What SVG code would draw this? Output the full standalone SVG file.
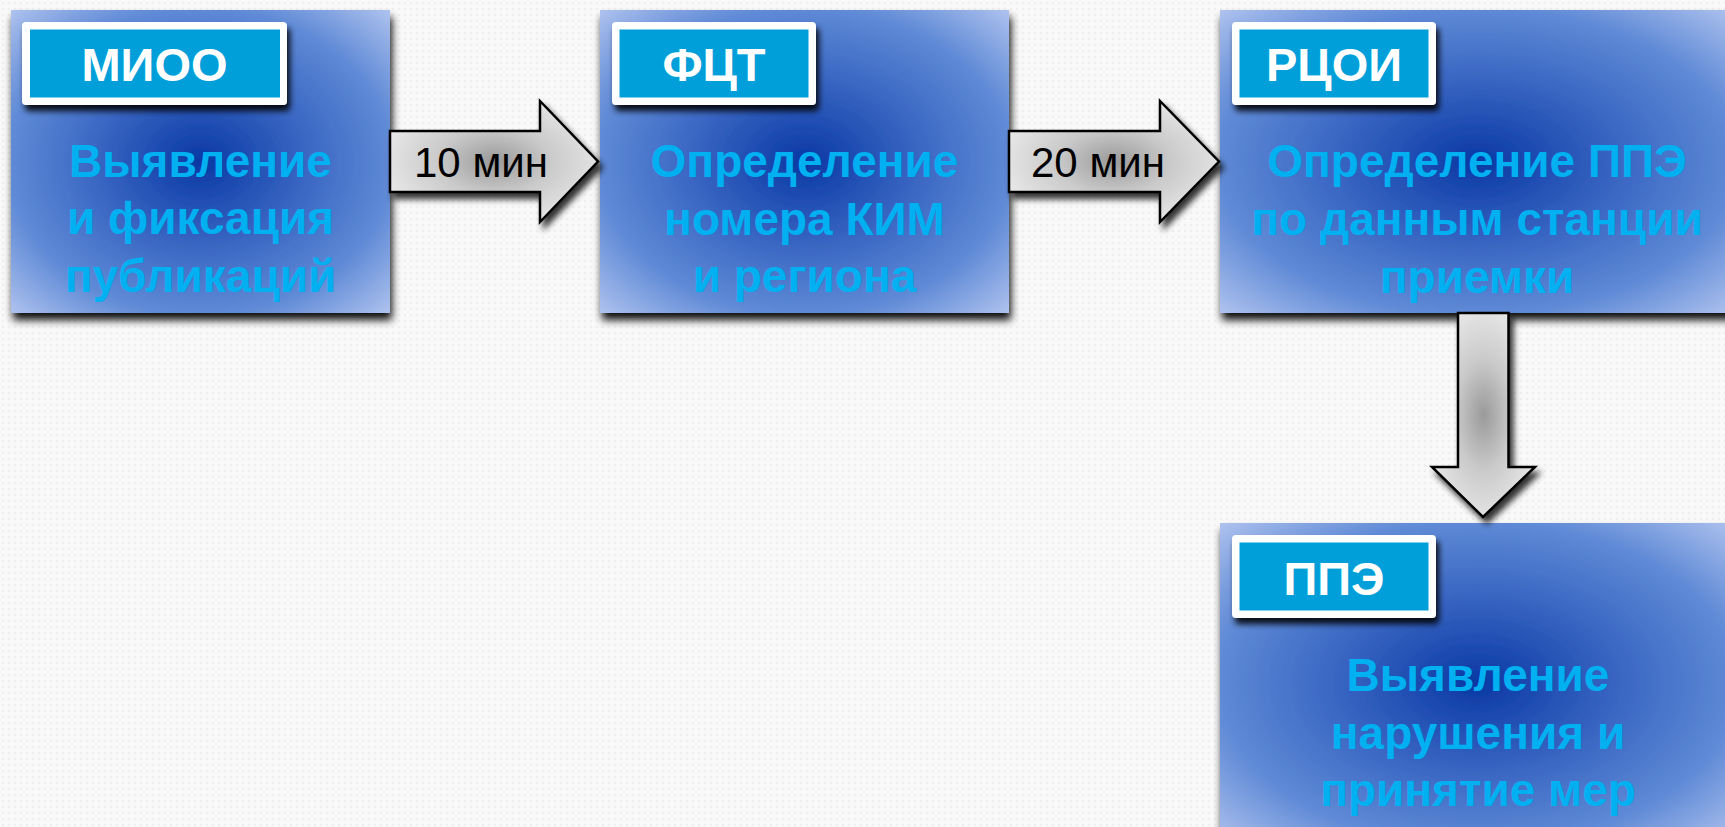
<svg xmlns="http://www.w3.org/2000/svg" width="1725" height="827" viewBox="0 0 1725 827">
<defs>
<pattern id="bgp" width="6" height="6" patternUnits="userSpaceOnUse">
<rect width="6" height="6" fill="#F9F9F9"/>
<circle cx="3" cy="3" r="1.3" fill="#EFEFEF"/>
</pattern>
<radialGradient id="boxg" cx="0.5" cy="0.5" r="0.72">
<stop offset="0" stop-color="#0A38A3"/>
<stop offset="0.35" stop-color="#3562C0"/>
<stop offset="0.7" stop-color="#5F8AD6"/>
<stop offset="1" stop-color="#B4C6F0"/>
</radialGradient>
<radialGradient id="arrg" cx="0.5" cy="0.5" r="0.6">
<stop offset="0" stop-color="#9A9A9A"/>
<stop offset="0.45" stop-color="#CACACA"/>
<stop offset="1" stop-color="#EDEDED"/>
</radialGradient>
<filter id="boxsh" x="-10%" y="-10%" width="120%" height="130%">
<feGaussianBlur in="SourceAlpha" stdDeviation="4"/>
<feOffset dx="2" dy="7" result="b"/>
<feComponentTransfer><feFuncA type="linear" slope="0.95"/></feComponentTransfer>
<feMerge><feMergeNode/><feMergeNode in="SourceGraphic"/></feMerge>
</filter>
<filter id="lblsh" x="-10%" y="-20%" width="125%" height="150%">
<feGaussianBlur in="SourceAlpha" stdDeviation="3"/>
<feOffset dx="3" dy="6"/>
<feComponentTransfer><feFuncA type="linear" slope="0.9"/></feComponentTransfer>
<feMerge><feMergeNode/><feMergeNode in="SourceGraphic"/></feMerge>
</filter>
<filter id="arrsh" x="-20%" y="-20%" width="140%" height="150%">
<feGaussianBlur in="SourceAlpha" stdDeviation="3"/>
<feOffset dx="4" dy="6"/>
<feComponentTransfer><feFuncA type="linear" slope="0.8"/></feComponentTransfer>
<feMerge><feMergeNode/><feMergeNode in="SourceGraphic"/></feMerge>
</filter>
</defs>
<style>
.box{fill:url(#boxg);filter:url(#boxsh)}
.lo{fill:#FFFFFF}
.li{fill:#009FDA}
.lt{font-family:"Liberation Sans",Arial,sans-serif;font-weight:bold;font-size:47px;fill:#FFFFFF;text-anchor:middle}
.mt{font-family:"Liberation Sans",Arial,sans-serif;font-weight:bold;font-size:46px;fill:#00B0F0;text-anchor:middle}
.arr{fill:url(#arrg);stroke:#000;stroke-width:2.5;stroke-linejoin:miter;filter:url(#arrsh)}
.at{font-family:"Liberation Sans",Arial,sans-serif;font-size:42px;fill:#000}
</style>
<rect width="1725" height="827" fill="url(#bgp)"/>

<g id="node-mioo">
<rect class="box" x="11" y="10" width="379" height="303"/>
<g filter="url(#lblsh)">
<rect class="lo" x="22" y="22" width="265" height="83" rx="4"/>
<rect class="li" x="30" y="29.5" width="250" height="68"/>
</g>
<text class="lt" x="154.5" y="81">МИОО</text>
<text class="mt" x="200.5" y="177">Выявление</text>
<text class="mt" x="200.5" y="234">и фиксация</text>
<text class="mt" x="200.5" y="292">публикаций</text>
</g>

<g id="node-fct">
<rect class="box" x="600" y="10" width="409" height="303"/>
<g filter="url(#lblsh)">
<rect class="lo" x="612" y="22" width="204" height="83" rx="4"/>
<rect class="li" x="619.5" y="29.5" width="189" height="68"/>
</g>
<text class="lt" x="714" y="81">ФЦТ</text>
<text class="mt" x="804.5" y="177">Определение</text>
<text class="mt" x="804.5" y="235">номера КИМ</text>
<text class="mt" x="804.5" y="292">и региона</text>
</g>

<g id="node-rcoi">
<rect class="box" x="1220" y="10" width="514" height="303"/>
<g filter="url(#lblsh)">
<rect class="lo" x="1232" y="22" width="204" height="83" rx="4"/>
<rect class="li" x="1239.5" y="29.5" width="189" height="68"/>
</g>
<text class="lt" x="1334" y="81">РЦОИ</text>
<text class="mt" x="1477" y="177">Определение ППЭ</text>
<text class="mt" x="1477" y="235">по данным станции</text>
<text class="mt" x="1477" y="293">приемки</text>
</g>

<g id="node-ppe">
<rect class="box" x="1220" y="523" width="514" height="320"/>
<g filter="url(#lblsh)">
<rect class="lo" x="1232" y="535" width="204" height="83" rx="4"/>
<rect class="li" x="1239.5" y="542.5" width="189" height="68"/>
</g>
<text class="lt" x="1334" y="595">ППЭ</text>
<text class="mt" x="1478" y="691">Выявление</text>
<text class="mt" x="1478" y="749">нарушения и</text>
<text class="mt" x="1478" y="806">принятие мер</text>
</g>

<g id="connectors">
<g id="edge-1">
<path class="arr" d="M390,131 H540 V101 L598,161.5 L540,222 V192 H390 Z"/>
<text class="at" x="414" y="177">10 мин</text>
</g>
<g id="edge-2">
<path class="arr" d="M1009,131 H1160 V101 L1219,161.5 L1160,222 V192 H1009 Z"/>
<text class="at" x="1031" y="177">20 мин</text>
</g>
<g id="edge-3">
<path class="arr" d="M1458,313 H1508.5 V467 H1535 L1483,517 L1432,467 H1458 Z"/>
</g>
</g>
</svg>
